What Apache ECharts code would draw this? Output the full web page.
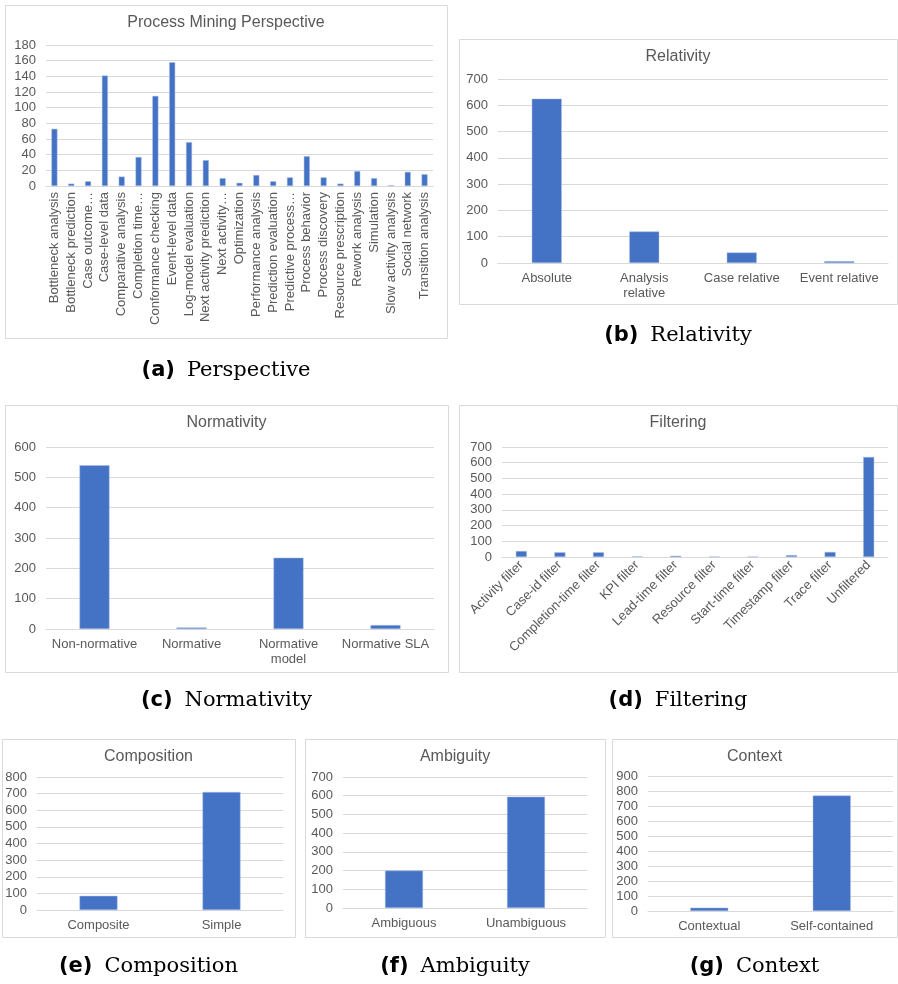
<!DOCTYPE html>
<html>
<head>
<meta charset="utf-8">
<script src="https://cdn.jsdelivr.net/npm/echarts@6/dist/echarts.min.js"></script>
<style>
  html, body { margin: 0; padding: 0; background: #fff; }
  #main { width: 898px; height: 984px; }
</style>
</head>
<body>
<div id="main"></div>
<script>
// (a) perspective
var perspCats = ["Bottleneck analysis", "Bottleneck prediction", "Case outcome…", "Case-level data",
  "Comparative analysis", "Completion time…", "Conformance checking", "Event-level data",
  "Log-model evaluation", "Next activity prediction", "Next activity…", "Optimization",
  "Performance analysis", "Prediction evaluation", "Predictive process…", "Process behavior",
  "Process discovery", "Resource prescription", "Rework analysis", "Simulation",
  "Slow activity analysis", "Social network", "Transition analysis"];
var perspVals = [73, 3, 6, 141, 12, 37, 115, 158, 56, 33, 10, 4, 14, 6, 11, 38, 11, 3, 19, 10, 1, 18, 15];
// (b) relativity
var relCats = ["Absolute", "Analysis\nrelative", "Case relative", "Event relative"];
var relVals = [625, 120, 40, 7];
// (c) normativity
var normCats = ["Non-normative", "Normative", "Normative\nmodel", "Normative SLA"];
var normVals = [540, 5, 235, 13];
// (d) filtering
var filtCats = ["Activity filter", "Case-id filter", "Completion-time filter", "KPI filter",
  "Lead-time filter", "Resource filter", "Start-time filter", "Timestamp filter", "Trace filter", "Unfiltered"];
var filtVals = [38, 30, 30, 4, 8, 2, 3, 12, 32, 637];
// (e) composition
var compCats = ["Composite", "Simple"];
var compVals = [85, 710];
// (f) ambiguity
var ambCats = ["Ambiguous", "Unambiguous"];
var ambVals = [200, 595];
// (g) context
var ctxCats = ["Contextual", "Self-contained"];
var ctxVals = [22, 770];

var BLUE = "#4472c4";
var GREY = "#595959";
var LINE = "#d9d9d9";
var SANS = "Liberation Sans, Arial, sans-serif";

// panel layout: box, plot area, bar width, y max/interval, label rotation
var panels = [
  { title: "Process Mining Perspective", cap: ["(a)", "Perspective"], capY: 360, cats: perspCats, vals: perspVals,
    box: [5, 5, 442, 333], grid: [46, 45, 387, 141], bw: 6, max: 180, step: 20, rotate: 90 },
  { title: "Relativity", cap: ["(b)", "Relativity"], capY: 325, cats: relCats, vals: relVals,
    box: [459, 39, 438, 265], grid: [498, 79, 390, 184], bw: 30, max: 700, step: 100, rotate: 0 },
  { title: "Normativity", cap: ["(c)", "Normativity"], capY: 690, cats: normCats, vals: normVals,
    box: [5, 405, 443, 267], grid: [46, 447, 388, 182], bw: 30, max: 600, step: 100, rotate: 0 },
  { title: "Filtering", cap: ["(d)", "Filtering"], capY: 690, cats: filtCats, vals: filtVals,
    box: [459, 405, 438, 267], grid: [502, 447, 386, 110], bw: 11, max: 700, step: 100, rotate: 45 },
  { title: "Composition", cap: ["(e)", "Composition"], capY: 956, cats: compCats, vals: compVals,
    box: [2, 739, 293, 198], grid: [37, 777, 246, 133], bw: 38, max: 800, step: 100, rotate: 0 },
  { title: "Ambiguity", cap: ["(f)", "Ambiguity"], capY: 956, cats: ambCats, vals: ambVals,
    box: [305, 739, 300, 198], grid: [343, 777, 244, 131], bw: 38, max: 700, step: 100, rotate: 0 },
  { title: "Context", cap: ["(g)", "Context"], capY: 956, cats: ctxCats, vals: ctxVals,
    box: [612, 739, 285, 198], grid: [648, 776, 245, 135], bw: 38, max: 900, step: 100, rotate: 0 }
];

var titles = [], grids = [], xAxes = [], yAxes = [], series = [], graphics = [];
for (var i = 0; i < panels.length; i++) {
  var p = panels[i];
  var cx = p.box[0] + p.box[2] / 2;
  graphics.push({
    type: "rect", silent: true,
    shape: { x: p.box[0] + 0.5, y: p.box[1] + 0.5, width: p.box[2], height: p.box[3] },
    style: { fill: "none", stroke: LINE, lineWidth: 1 }
  });
  titles.push({
    text: p.title, left: cx, top: p.box[1] + 10, textAlign: "center", padding: 0,
    textStyle: { color: GREY, fontFamily: SANS, fontSize: 16, fontWeight: "normal" }
  });
  titles.push({
    text: "{b|" + p.cap[0] + "}{r|" + p.cap[1] + "}", left: cx, top: p.capY, textAlign: "center", padding: 0,
    textStyle: {
      fontWeight: "normal",
      rich: {
        b: { fontFamily: "DejaVu Sans", fontSize: 21, fontWeight: "bold", color: "#000", padding: [0, 12, 0, 0] },
        r: { fontFamily: "DejaVu Serif", fontSize: 21, fontWeight: "normal", color: "#000" }
      }
    }
  });
  grids.push({ left: p.grid[0], top: p.grid[1], width: p.grid[2], height: p.grid[3], containLabel: false });
  xAxes.push({
    type: "category", gridIndex: i, data: p.cats,
    axisTick: { show: false },
    axisLine: { lineStyle: { color: LINE } },
    axisLabel: {
      interval: 0, rotate: p.rotate, color: GREY, fontFamily: SANS,
      fontSize: 13, lineHeight: 15, margin: p.rotate ? 6 : 8
    }
  });
  yAxes.push({
    type: "value", gridIndex: i, min: 0, max: p.max, interval: p.step,
    axisLine: { show: false }, axisTick: { show: false },
    splitLine: { lineStyle: { color: LINE } },
    axisLabel: { color: GREY, fontFamily: SANS, fontSize: 13, margin: 10 }
  });
  series.push({
    type: "bar", xAxisIndex: i, yAxisIndex: i, data: p.vals, barWidth: p.bw,
    itemStyle: { color: BLUE, borderColor: "#a9bfe6", borderWidth: 0.5 },
    silent: true
  });
}

var myChart = echarts.init(document.getElementById("main"));
myChart.setOption({
  animation: false,
  backgroundColor: "#fff",
  title: titles,
  grid: grids,
  xAxis: xAxes,
  yAxis: yAxes,
  series: series,
  graphic: graphics
});
</script>
</body>
</html>
